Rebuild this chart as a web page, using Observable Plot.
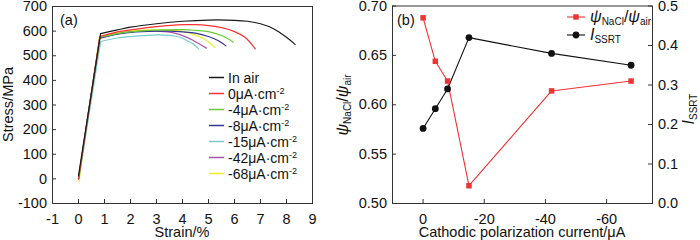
<!DOCTYPE html>
<html><head><meta charset="utf-8">
<script src="https://cdn.jsdelivr.net/npm/d3@7"></script>
<script src="https://cdn.jsdelivr.net/npm/@observablehq/plot@0.6"></script>
<style>
body{margin:0;background:#fff}
#wrap{display:flex;width:700px;height:240px;overflow:hidden;background:#fff}
#wrap svg{overflow:visible}
</style></head><body><div id="wrap"></div>
<script>
// ---------- Panel (a): stress-strain curves ----------
const seriesNames = ["In air", "0", "-4", "-8", "-15", "-42", "-68"];
const seriesColors = ["#1a1a1a", "#ff3333", "#66cc33", "#333399", "#77cccc", "#aa55aa", "#eeee22"];
const strainAir = [0, 0.85, 1.5, 2, 3, 4, 5, 6, 6.5, 7, 7.5, 8, 8.33];
const stressAir = [12, 590, 605, 616, 630, 640, 645, 644, 640, 630, 610, 575, 546];
const strain0 = [0, 0.82, 1.5, 2, 3, 4, 4.5, 5, 5.5, 6, 6.4, 6.8];
const stress0 = [0, 578, 597, 605, 618, 626, 626, 622, 614, 598, 575, 528];
const strain4 = [0, 0.82, 1.5, 2, 3, 4, 4.5, 5, 5.5, 5.96];
const stress4 = [0, 575, 590, 597, 604, 606, 603, 598, 582, 555];
const strain8 = [0, 0.82, 1.5, 2, 3, 3.5, 4, 4.5, 5, 5.4, 5.67];
const stress8 = [0, 572, 588, 595, 600, 600, 597, 592, 578, 560, 540];
const strain15 = [0.02, 0.85, 1.5, 2, 2.5, 3, 3.5, 3.9, 4.2, 4.45, 4.63];
const stress15 = [5, 558, 572, 578, 582, 585, 583, 575, 560, 545, 527];
const strain42 = [0, 0.82, 1.5, 2, 2.5, 3, 3.5, 3.9, 4.4, 4.7, 4.92];
const stress42 = [0, 570, 590, 597, 600, 600, 596, 586, 563, 545, 531];
const strain68 = [0.02, 0.8, 1.5, 2, 3, 3.5, 4, 4.4, 4.8, 5.05, 5.25];
const stress68 = [-10, 575, 595, 601, 605, 603, 598, 588, 570, 552, 533];
const strainSets = [strainAir, strain0, strain4, strain8, strain15, strain42, strain68];
const stressSets = [stressAir, stress0, stress4, stress8, stress15, stress42, stress68];
const xTicksA = [-1, 0, 1, 2, 3, 4, 5, 6, 7, 8, 9];
const yTicksA = [-100, 0, 100, 200, 300, 400, 500, 600, 700];

// ---------- Panel (b) ----------
const current = [0, -4, -8, -15, -42, -68];
const psiRatio = [0.688, 0.644, 0.624, 0.518, 0.614, 0.624];
const issrt = [0.19, 0.24, 0.29, 0.42, 0.38, 0.35];
const xTicksB = [0, -20, -40, -60];
const yTicksB = [0.50, 0.55, 0.60, 0.65, 0.70];
const yTicksBRight = [0, 0.1, 0.2, 0.3, 0.4, 0.5];

const FONT = "'Liberation Sans', Arial, sans-serif";
const AX = "#333";
const RED = "#ee3333";

function seriesRows(i) {
  return strainSets[i].map((s, j) => ({strain: s, stress: stressSets[i][j]}));
}

const curveMarks = [];
for (let i = seriesNames.length - 1; i >= 0; i--) {
  const rows = seriesRows(i);
  curveMarks.push(Plot.line(rows.slice(0, 2), {x: "strain", y: "stress", stroke: seriesColors[i], strokeWidth: 1.2}));
  curveMarks.push(Plot.line(rows.slice(1), {x: "strain", y: "stress", stroke: seriesColors[i], strokeWidth: 1.2, curve: "catmull-rom"}));
}

const mA = {l: 52, r: 38, t: 6, b: 37};
const iwA = 350 - mA.l - mA.r, ihA = 240 - mA.t - mA.b;
const A = Plot.plot({
  width: 350, height: 240,
  marginLeft: mA.l, marginRight: mA.r, marginTop: mA.t, marginBottom: mA.b,
  style: {fontFamily: FONT, fontSize: "14.5px", background: "transparent", color: "#111", overflow: "visible"},
  x: {domain: [-1, 9]},
  y: {domain: [-100, 700]},
  marks: [
    ...curveMarks,
    Plot.ruleX(xTicksA, {x: d => d, insetTop: ihA - 4, stroke: AX}),
    Plot.ruleY(yTicksA, {y: d => d, insetRight: iwA - 4, stroke: AX}),
    Plot.axisX({ticks: xTicksA, tickSize: 0, tickPadding: 10.5, tickFormat: d => String(d), label: null}),
    Plot.axisY({ticks: yTicksA, tickSize: 0, tickPadding: 5.5, tickFormat: d => String(d), label: null}),
    Plot.frame({stroke: AX})
  ]
});

// Panel (a) titles & legend
{
  const s = d3.select(A);
  s.append("text").attr("x", 182).attr("y", 237).attr("text-anchor", "middle").attr("fill", "#111").text("Strain/%");
  s.append("text").attr("transform", "translate(13,104.5) rotate(-90)").attr("text-anchor", "middle").attr("fill", "#111").text("Stress/MPa");
  s.append("text").attr("x", 60).attr("y", 25).attr("text-anchor", "start").attr("fill", "#111").text("(a)");
  const g = s.append("g").attr("font-size", "14px").attr("fill", "#111").attr("text-anchor", "start");
  seriesNames.forEach((name, i) => {
    const y = 77.5 + i * 16;
    g.append("line").attr("x1", 209).attr("x2", 224).attr("y1", y).attr("y2", y).attr("stroke", seriesColors[i]).attr("stroke-width", 1.5);
    const t = g.append("text").attr("x", 228).attr("y", y + 5);
    if (i === 0) t.text(name);
    else {
      t.append("tspan").text(name + "μA·cm");
      t.append("tspan").attr("dy", -5).attr("font-size", "9px").text("-2");
    }
  });
}

// ---------- Panel (b) plot ----------
const mB = {l: 42, r: 48, t: 5.5, b: 37};
const iwB = 350 - mB.l - mB.r, ihB = 240 - mB.t - mB.b;
const toLeft = v => 0.5 + v * 0.4; // right axis [0,0.5] -> left [0.5,0.7]
const rowsB = current.map((c, i) => ({c, psi: psiRatio[i], iy: toLeft(issrt[i])}));

const B = Plot.plot({
  width: 350, height: 240,
  marginLeft: mB.l, marginRight: mB.r, marginTop: mB.t, marginBottom: mB.b,
  style: {fontFamily: FONT, fontSize: "14.5px", background: "transparent", color: "#111", overflow: "visible"},
  x: {domain: [10, -75]},
  y: {domain: [0.5, 0.7]},
  marks: [
    Plot.line(rowsB, {x: "c", y: "psi", stroke: RED, strokeWidth: 1.1}),
    Plot.line(rowsB, {x: "c", y: "iy", stroke: "#111", strokeWidth: 1.1}),
    Plot.dot(rowsB, {x: "c", y: "psi", symbol: "square", r: 3.1, fill: RED}),
    Plot.dot(rowsB, {x: "c", y: "iy", r: 3.4, fill: "#111"}),
    Plot.ruleX(xTicksB, {x: d => d, insetTop: ihB - 4, stroke: AX}),
    Plot.ruleY(yTicksB, {y: d => d, insetRight: iwB - 4, stroke: AX}),
    Plot.ruleY(yTicksBRight.map(toLeft), {y: d => d, insetLeft: iwB - 4, stroke: AX}),
    Plot.axisX({ticks: xTicksB, tickSize: 0, tickPadding: 10.5, tickFormat: d => String(d), label: null}),
    Plot.axisY({ticks: yTicksB, tickSize: 0, tickPadding: 5.5, tickFormat: d => d.toFixed(2), label: null}),
    Plot.axisY({anchor: "right", ticks: yTicksBRight.map(toLeft), tickSize: 0, tickPadding: 5.5, tickFormat: d => ((d - 0.5) / 0.4).toFixed(1), label: null}),
    Plot.frame({stroke: AX})
  ]
});

{
  const s = d3.select(B);
  s.append("text").attr("x", 172).attr("y", 237).attr("text-anchor", "middle").attr("fill", "#111").text("Cathodic polarization current/μA");
  s.append("text").attr("x", 47).attr("y", 25).attr("text-anchor", "start").attr("fill", "#111").text("(b)");
  // left title psi_NaCl/psi_air
  const lt = s.append("text").attr("transform", "translate(-2,105) rotate(-90)").attr("text-anchor", "middle").attr("fill", "#111");
  lt.append("tspan").attr("font-style", "italic").attr("font-size", "16px").text("ψ");
  lt.append("tspan").attr("font-size", "10px").attr("dy", 3).text("NaCl");
  lt.append("tspan").attr("font-size", "16px").attr("dy", -3).text("/");
  lt.append("tspan").attr("font-style", "italic").attr("font-size", "16px").text("ψ");
  lt.append("tspan").attr("font-size", "10px").attr("dy", 3).text("air");
  // right title I_SSRT
  const rt = s.append("text").attr("transform", "translate(344,109) rotate(-90)").attr("text-anchor", "middle").attr("fill", "#111");
  rt.append("tspan").attr("font-style", "italic").attr("font-size", "16px").text("I");
  rt.append("tspan").attr("font-size", "10px").attr("dy", 3).text("SSRT");
  // legend
  const g = s.append("g").attr("fill", "#111").attr("text-anchor", "start");
  const lx1 = 217, lx2 = 235, lc = 226, tx = 240;
  g.append("line").attr("x1", lx1).attr("x2", lx2).attr("y1", 17).attr("y2", 17).attr("stroke", RED).attr("stroke-width", 1.1);
  g.append("rect").attr("x", lc - 2.7).attr("y", 17 - 2.7).attr("width", 5.4).attr("height", 5.4).attr("fill", RED);
  const t1 = g.append("text").attr("x", tx).attr("y", 22);
  t1.append("tspan").attr("font-style", "italic").attr("font-size", "16px").text("ψ");
  t1.append("tspan").attr("font-size", "10px").attr("dy", 3).text("NaCl");
  t1.append("tspan").attr("font-size", "16px").attr("dy", -3).text("/");
  t1.append("tspan").attr("font-style", "italic").attr("font-size", "16px").text("ψ");
  t1.append("tspan").attr("font-size", "10px").attr("dy", 3).text("air");
  g.append("line").attr("x1", lx1).attr("x2", lx2).attr("y1", 35).attr("y2", 35).attr("stroke", "#111").attr("stroke-width", 1.1);
  g.append("circle").attr("cx", lc).attr("cy", 35).attr("r", 3.4).attr("fill", "#111");
  const t2 = g.append("text").attr("x", tx).attr("y", 40);
  t2.append("tspan").attr("font-style", "italic").attr("font-size", "16px").text("I");
  t2.append("tspan").attr("font-size", "10px").attr("dy", 3).text("SSRT");
}

document.getElementById("wrap").append(A, B);
</script></body></html>
